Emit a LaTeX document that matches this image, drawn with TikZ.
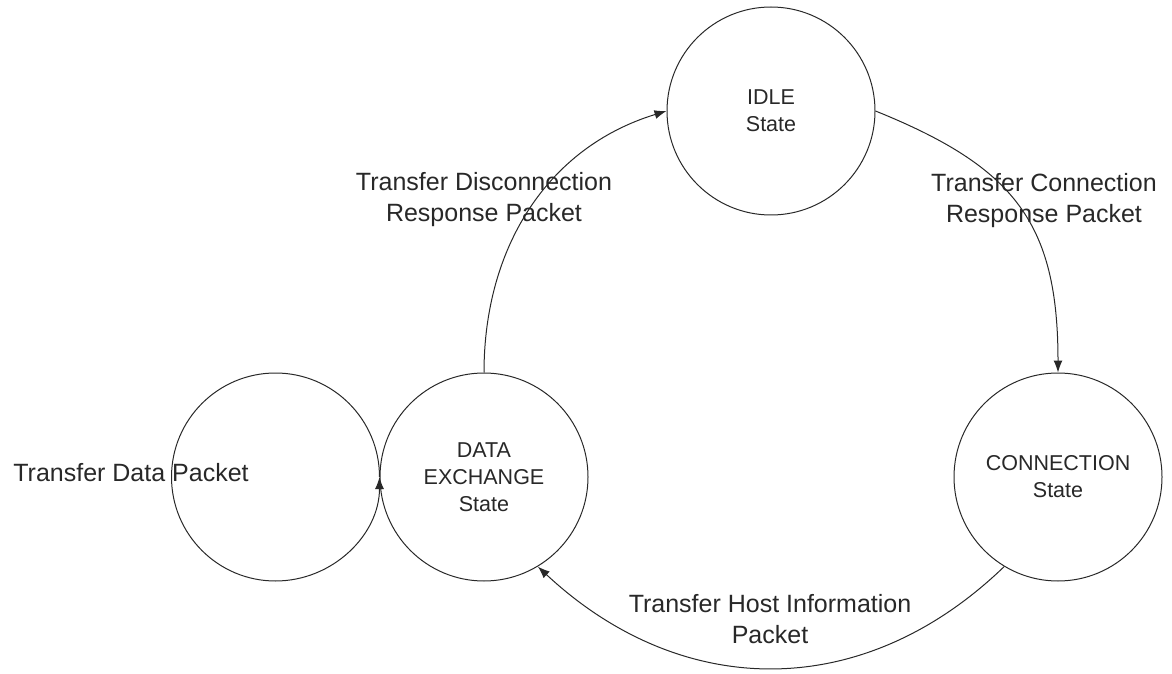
\documentclass[tikz,border=0pt]{standalone}
\usepackage{fontspec}
\setmainfont{Liberation Sans}
\usepackage{xcolor}
\usepackage{tikz}
\usetikzlibrary{arrows.meta, positioning}
\definecolor{ink}{RGB}{40,40,40}

\begin{document}
\begin{tikzpicture}[x=1pt, y=1pt,
  statenode/.style={circle, draw=ink, line width=1pt, minimum size=208pt, inner sep=0pt,
    align=center, text=ink, font=\fontsize{21.5}{27}\selectfont},
  lbl/.style={align=center, text=ink, font=\fontsize{25}{31}\selectfont},
  arr/.style={-{Latex[length=12pt, width=9pt]}, line width=1pt, draw=ink}]
  \useasboundingbox (0,0) rectangle (1172,673);
  \node[statenode] (idle) at (771,562) {IDLE\\State};
  \node[statenode] (conn) at (1058,196) {CONNECTION\\State};
  \node[statenode] (exch) at (484,196) {DATA\\EXCHANGE\\State};
  \node[lbl] (lblDisc) at (484,473) {Transfer Disconnection\\Response Packet};
  \node[lbl] (lblConn) at (1044,472) {Transfer Connection\\Response Packet};
  \node[lbl] (lblHost) at (770,54) {Transfer Host Information\\Packet};
  \node[lbl] (lblData) at (131,200) {Transfer Data Packet};
  \draw[arr] (exch.north) to[out=90, in=197] (idle.west);
  \draw[arr] (idle.east) to[out=-22, in=90, looseness=1.2] (conn.north);
  \draw[arr] (conn.-121) to[out=224, in=-43, looseness=1.08] (exch.-59);
  \draw[arr] (exch.west) arc[start angle=0, end angle=360, radius=104];
\end{tikzpicture}
\end{document}
